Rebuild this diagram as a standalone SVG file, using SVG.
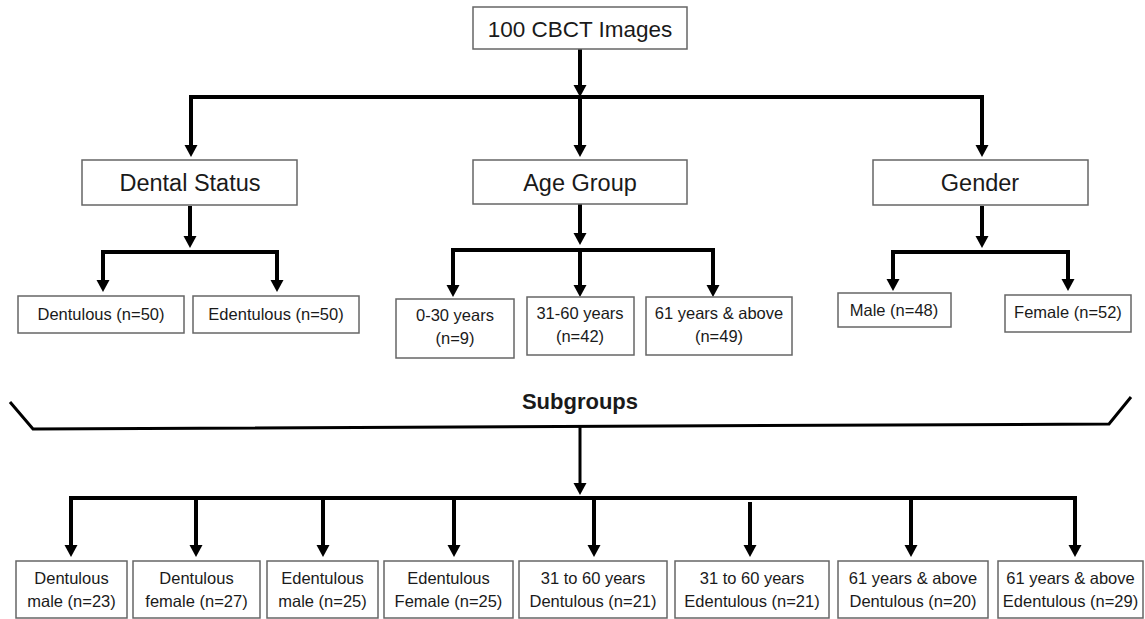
<svg xmlns="http://www.w3.org/2000/svg" width="1145" height="619" viewBox="0 0 1145 619">
<style>
.box{fill:#fff;stroke:#666;stroke-width:1.5}
.t{font-family:"Liberation Sans",Arial,sans-serif;fill:#1a1a1a;text-anchor:middle}
.big{font-size:22.5px}
.cat{font-size:23.5px}
.sm{font-size:16.5px}
.hd{font-size:22px;font-weight:bold}
.c{fill:none;stroke:#000;stroke-width:4;stroke-linejoin:miter}
.cs{stroke-width:3}
</style>
<defs>
<marker id="ah" markerUnits="userSpaceOnUse" markerWidth="14" markerHeight="14" refX="2" refY="7" orient="auto-start-reverse">
<path d="M0,0.5 L12,7 L0,13.5 z" fill="#000"/>
</marker>
</defs>
<g id="connectors">
<path class="c" d="M580,49 V87" marker-end="url(#ah)"/>
<path class="c" d="M191,147 V97 H982 V147" marker-start="url(#ah)" marker-end="url(#ah)"/>
<path class="c" d="M580,97 V147" marker-end="url(#ah)"/>
<path class="c" d="M190,206 V238" marker-end="url(#ah)"/>
<path class="c" d="M103,282 V252 H277 V282" marker-start="url(#ah)" marker-end="url(#ah)"/>
<path class="c" d="M580,204 V235" marker-end="url(#ah)"/>
<path class="c" d="M453,287 V250 H713 V287" marker-start="url(#ah)" marker-end="url(#ah)"/>
<path class="c" d="M580,250 V287" marker-end="url(#ah)"/>
<path class="c" d="M982,206 V238" marker-end="url(#ah)"/>
<path class="c" d="M893,281 V252 H1068 V281" marker-start="url(#ah)" marker-end="url(#ah)"/>
<path class="c cs" d="M10,402 L33,429 L1109,424 L1131,397"/>
<path class="c cs" d="M580,427 V485" marker-end="url(#ah)"/>
<path class="c" d="M71,547 V498 H1075 V547" marker-start="url(#ah)" marker-end="url(#ah)"/>
<path class="c" d="M196,498 V547" marker-end="url(#ah)"/>
<path class="c" d="M323,498 V547" marker-end="url(#ah)"/>
<path class="c" d="M454,498 V547" marker-end="url(#ah)"/>
<path class="c" d="M594,498 V547" marker-end="url(#ah)"/>
<path class="c" d="M750,502 V547" marker-end="url(#ah)"/>
<path class="c" d="M911,498 V547" marker-end="url(#ah)"/>
</g>
<g id="root"><rect class="box" x="473" y="7" width="214" height="42"/><text class="t big" x="580" y="37">100 CBCT Images</text></g>
<g id="dental"><rect class="box" x="82" y="160" width="215" height="45"/><text class="t cat" x="190" y="191">Dental Status</text></g>
<g id="age"><rect class="box" x="473" y="160" width="214" height="44"/><text class="t cat" x="580" y="191">Age Group</text></g>
<g id="gender"><rect class="box" x="873" y="160" width="215" height="45"/><text class="t cat" x="980" y="191">Gender</text></g>
<g id="dentulous"><rect class="box" x="18" y="296" width="166" height="37"/><text class="t sm" x="101" y="320">Dentulous (n=50)</text></g>
<g id="edentulous"><rect class="box" x="193" y="296" width="166" height="37"/><text class="t sm" x="276" y="320">Edentulous (n=50)</text></g>
<g id="age030"><rect class="box" x="396" y="299" width="118" height="59"/><text class="t sm" x="455" y="321">0-30 years</text><text class="t sm" x="455" y="344">(n=9)</text></g>
<g id="age3160"><rect class="box" x="527" y="297" width="107" height="58"/><text class="t sm" x="580" y="319">31-60 years</text><text class="t sm" x="580" y="342">(n=42)</text></g>
<g id="age61"><rect class="box" x="646" y="297" width="146" height="58"/><text class="t sm" x="719" y="319">61 years &amp; above</text><text class="t sm" x="719" y="342">(n=49)</text></g>
<g id="male"><rect class="box" x="838" y="293" width="113" height="34"/><text class="t sm" x="894" y="316">Male (n=48)</text></g>
<g id="female"><rect class="box" x="1005" y="295" width="126" height="37"/><text class="t sm" x="1068" y="318">Female (n=52)</text></g>
<g id="subgroups"><text class="t hd" x="580" y="409">Subgroups</text></g>
<g id="sg1"><rect class="box" x="16" y="561" width="111" height="57"/><text class="t sm" x="71.5" y="584">Dentulous</text><text class="t sm" x="71.5" y="607">male (n=23)</text></g>
<g id="sg2"><rect class="box" x="133" y="561" width="127" height="57"/><text class="t sm" x="196.5" y="584">Dentulous</text><text class="t sm" x="196.5" y="607">female (n=27)</text></g>
<g id="sg3"><rect class="box" x="267" y="561" width="111" height="57"/><text class="t sm" x="322.5" y="584">Edentulous</text><text class="t sm" x="322.5" y="607">male (n=25)</text></g>
<g id="sg4"><rect class="box" x="384" y="561" width="129" height="57"/><text class="t sm" x="448.5" y="584">Edentulous</text><text class="t sm" x="448.5" y="607">Female (n=25)</text></g>
<g id="sg5"><rect class="box" x="519" y="561" width="148" height="57"/><text class="t sm" x="593" y="584">31 to 60 years</text><text class="t sm" x="593" y="607">Dentulous (n=21)</text></g>
<g id="sg6"><rect class="box" x="675" y="561" width="154" height="57"/><text class="t sm" x="752" y="584">31 to 60 years</text><text class="t sm" x="752" y="607">Edentulous (n=21)</text></g>
<g id="sg7"><rect class="box" x="838" y="561" width="150" height="57"/><text class="t sm" x="913" y="584">61 years &amp; above</text><text class="t sm" x="913" y="607">Dentulous (n=20)</text></g>
<g id="sg8"><rect class="box" x="998" y="561" width="145" height="57"/><text class="t sm" x="1070.5" y="584">61 years &amp; above</text><text class="t sm" x="1070.5" y="607">Edentulous (n=29)</text></g>
</svg>
